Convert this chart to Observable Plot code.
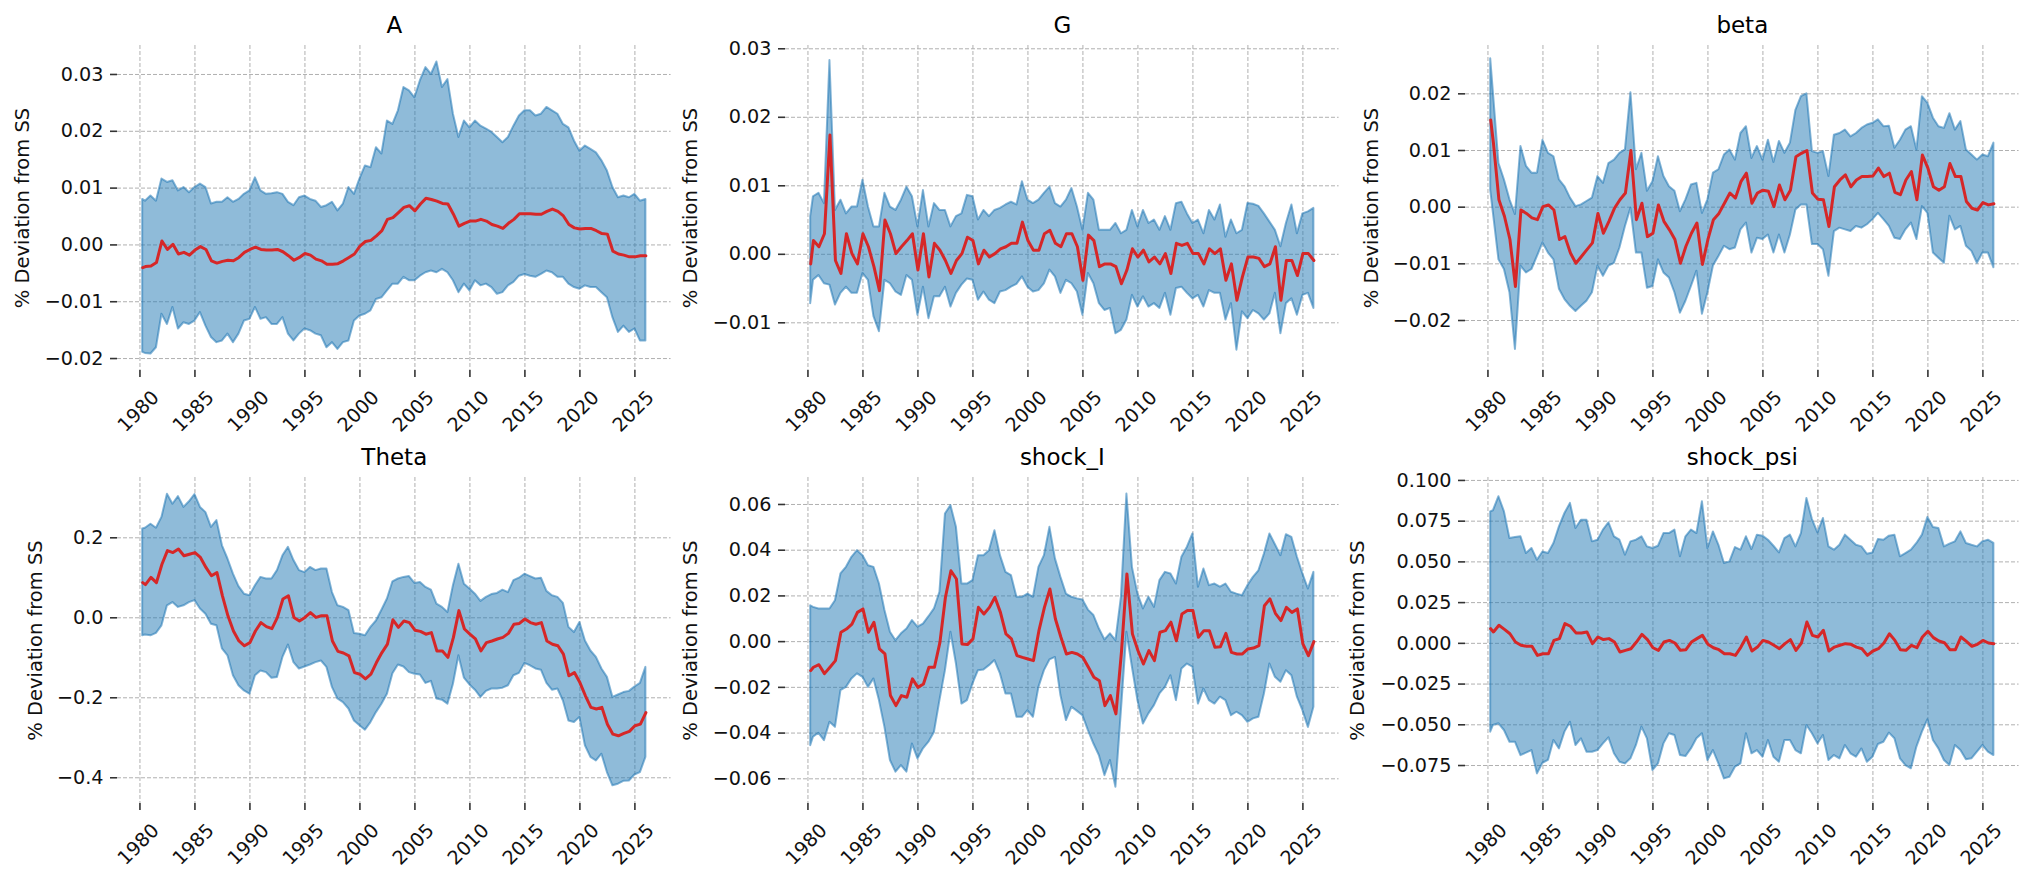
<!DOCTYPE html>
<html><head><meta charset="utf-8">
<script src="https://cdn.jsdelivr.net/npm/d3@7"></script>
<script src="https://cdn.jsdelivr.net/npm/@observablehq/plot@0.6"></script>
<style>
html,body{margin:0;padding:0;background:#fff;overflow:hidden}
#fig{position:relative;width:2032px;height:880px;font-family:"DejaVu Sans",sans-serif}
#fig svg{position:absolute;overflow:visible}
</style></head><body><div id="fig"></div>
<script>
// time index: 1980Q2 then half-yearly to 2026
const dates = [1980.25, ...d3.range(1980.5, 2026.01, 0.5)];
const yearTicks = [1980, 1985, 1990, 1995, 2000, 2005, 2010, 2015, 2020, 2025];
const yLabel = "% Deviation from SS";

// ---- A ----
const A_med = [
-0.0040,-0.0038,-0.0037,-0.0031,0.0007,-0.0008,0.0001,-0.0016,-0.0013,-0.0018,
-0.0009,-0.0003,-0.0008,-0.0028,-0.0032,-0.0029,-0.0027,-0.0028,-0.0022,-0.0013,
-0.0008,-0.0004,-0.0008,-0.0009,-0.0009,-0.0008,-0.0012,-0.0019,-0.0027,-0.0022,
-0.0015,-0.0018,-0.0025,-0.0028,-0.0034,-0.0034,-0.0033,-0.0028,-0.0022,-0.0016,
-0.0002,0.0006,0.0008,0.0016,0.0025,0.0045,0.0048,0.0057,0.0066,0.0069,
0.0060,0.0072,0.0082,0.0080,0.0077,0.0073,0.0072,0.0054,0.0033,0.0038,
0.0042,0.0042,0.0045,0.0042,0.0036,0.0033,0.0029,0.0038,0.0045,0.0055,
0.0055,0.0055,0.0054,0.0054,0.0059,0.0063,0.0059,0.0051,0.0036,0.0030,
0.0028,0.0029,0.0029,0.0025,0.0020,0.0019,-0.0011,-0.0016,-0.0018,-0.0021,
-0.0021,-0.0019,-0.0019];
const A_hi = [
0.0080,0.0077,0.0086,0.0077,0.0116,0.0110,0.0113,0.0095,0.0101,0.0092,
0.0101,0.0107,0.0101,0.0072,0.0075,0.0075,0.0083,0.0075,0.0080,0.0089,
0.0095,0.0118,0.0095,0.0089,0.0090,0.0092,0.0089,0.0075,0.0069,0.0083,
0.0086,0.0080,0.0077,0.0066,0.0069,0.0075,0.0060,0.0072,0.0101,0.0089,
0.0116,0.0139,0.0136,0.0171,0.0160,0.0218,0.0212,0.0236,0.0277,0.0271,
0.0259,0.0289,0.0312,0.0300,0.0322,0.0277,0.0291,0.0230,0.0189,0.0218,
0.0206,0.0218,0.0209,0.0204,0.0198,0.0189,0.0180,0.0189,0.0209,0.0227,
0.0236,0.0236,0.0227,0.0230,0.0242,0.0236,0.0230,0.0212,0.0206,0.0183,
0.0165,0.0174,0.0168,0.0162,0.0148,0.0130,0.0101,0.0083,0.0086,0.0083,
0.0089,0.0077,0.0080];
const A_lo = [
-0.0189,-0.0191,-0.0192,-0.0181,-0.0122,-0.0140,-0.0110,-0.0148,-0.0137,-0.0140,
-0.0134,-0.0119,-0.0143,-0.0163,-0.0172,-0.0169,-0.0157,-0.0172,-0.0157,-0.0134,
-0.0131,-0.0110,-0.0131,-0.0128,-0.0140,-0.0140,-0.0128,-0.0157,-0.0169,-0.0157,
-0.0148,-0.0151,-0.0157,-0.0160,-0.0181,-0.0172,-0.0184,-0.0172,-0.0169,-0.0134,
-0.0125,-0.0122,-0.0116,-0.0096,-0.0093,-0.0081,-0.0069,-0.0069,-0.0057,-0.0063,
-0.0063,-0.0055,-0.0049,-0.0046,-0.0049,-0.0043,-0.0049,-0.0063,-0.0084,-0.0069,
-0.0081,-0.0063,-0.0072,-0.0069,-0.0075,-0.0087,-0.0084,-0.0072,-0.0066,-0.0055,
-0.0052,-0.0055,-0.0057,-0.0052,-0.0046,-0.0049,-0.0057,-0.0057,-0.0069,-0.0075,
-0.0078,-0.0072,-0.0075,-0.0075,-0.0084,-0.0093,-0.0128,-0.0154,-0.0143,-0.0154,
-0.0148,-0.0169,-0.0169];

// ---- G ----
const G_med = [
-0.0014,0.0020,0.0011,0.0030,0.0174,-0.0009,-0.0028,0.0030,0.0001,-0.0014,
0.0030,0.0011,-0.0018,-0.0053,0.0050,0.0030,0.0001,0.0011,0.0020,0.0030,
-0.0023,0.0030,-0.0033,0.0016,0.0006,-0.0009,-0.0028,-0.0009,0.0001,0.0025,
0.0020,-0.0014,0.0006,-0.0004,0.0001,0.0008,0.0011,0.0016,0.0016,0.0047,
0.0020,0.0006,0.0006,0.0030,0.0035,0.0016,0.0011,0.0030,0.0030,0.0011,
-0.0038,0.0028,0.0020,-0.0018,-0.0014,-0.0014,-0.0018,-0.0043,-0.0023,0.0008,
-0.0004,0.0006,-0.0011,-0.0004,-0.0014,0.0001,-0.0028,0.0016,0.0013,0.0016,
0.0001,0.0001,-0.0014,0.0008,0.0001,0.0008,-0.0038,-0.0014,-0.0067,-0.0033,
-0.0004,-0.0004,-0.0006,-0.0018,-0.0014,0.0011,-0.0067,-0.0009,-0.0009,-0.0031,
0.0001,0.0001,-0.0009];
const G_hi = [
0.0055,0.0084,0.0089,0.0074,0.0283,0.0064,0.0079,0.0059,0.0069,0.0069,
0.0108,0.0069,0.0040,0.0040,0.0089,0.0069,0.0064,0.0079,0.0098,0.0084,
0.0040,0.0093,0.0040,0.0074,0.0064,0.0064,0.0040,0.0055,0.0059,0.0086,
0.0084,0.0050,0.0064,0.0055,0.0064,0.0067,0.0072,0.0076,0.0072,0.0106,
0.0079,0.0074,0.0079,0.0089,0.0098,0.0074,0.0069,0.0079,0.0096,0.0069,
0.0035,0.0089,0.0079,0.0035,0.0035,0.0035,0.0045,0.0030,0.0035,0.0064,
0.0040,0.0064,0.0045,0.0050,0.0035,0.0055,0.0035,0.0074,0.0076,0.0059,
0.0045,0.0050,0.0030,0.0064,0.0050,0.0072,0.0025,0.0050,0.0030,0.0035,
0.0074,0.0073,0.0070,0.0059,0.0047,0.0035,0.0011,0.0045,0.0072,0.0030,
0.0059,0.0062,0.0067];
const G_lo = [
-0.0072,-0.0038,-0.0031,-0.0043,-0.0045,-0.0074,-0.0057,-0.0048,-0.0057,-0.0057,
-0.0028,-0.0038,-0.0091,-0.0113,-0.0038,-0.0043,-0.0055,-0.0060,-0.0031,-0.0038,
-0.0089,-0.0048,-0.0094,-0.0062,-0.0062,-0.0048,-0.0077,-0.0057,-0.0045,-0.0036,
-0.0038,-0.0067,-0.0055,-0.0067,-0.0072,-0.0055,-0.0053,-0.0048,-0.0044,-0.0033,
-0.0048,-0.0055,-0.0053,-0.0043,-0.0023,-0.0033,-0.0057,-0.0038,-0.0043,-0.0055,
-0.0089,-0.0028,-0.0043,-0.0072,-0.0082,-0.0079,-0.0116,-0.0111,-0.0096,-0.0060,
-0.0077,-0.0062,-0.0077,-0.0072,-0.0079,-0.0057,-0.0089,-0.0050,-0.0048,-0.0057,
-0.0065,-0.0060,-0.0077,-0.0053,-0.0057,-0.0057,-0.0096,-0.0072,-0.0140,-0.0084,
-0.0094,-0.0082,-0.0087,-0.0096,-0.0087,-0.0057,-0.0116,-0.0072,-0.0065,-0.0089,
-0.0060,-0.0057,-0.0079];

// ---- beta ----
const beta_med = [
0.0154,0.0113,0.0013,-0.0016,-0.0057,-0.0140,-0.0005,-0.0011,-0.0019,-0.0022,
0.0001,0.0004,-0.0005,-0.0057,-0.0052,-0.0081,-0.0099,-0.0087,-0.0075,-0.0063,
-0.0011,-0.0046,-0.0025,-0.0002,0.0013,0.0025,0.0100,-0.0022,0.0007,-0.0052,
-0.0046,0.0004,-0.0025,-0.0040,-0.0057,-0.0099,-0.0069,-0.0046,-0.0028,-0.0101,
-0.0057,-0.0022,-0.0011,0.0007,0.0025,0.0016,0.0045,0.0060,0.0007,0.0025,
0.0030,0.0028,0.0001,0.0039,0.0013,0.0030,0.0089,0.0095,0.0100,0.0025,
0.0014,0.0013,-0.0034,0.0036,0.0048,0.0057,0.0036,0.0048,0.0054,0.0054,
0.0055,0.0069,0.0054,0.0060,0.0026,0.0022,0.0048,0.0063,0.0013,0.0092,
0.0069,0.0036,0.0030,0.0036,0.0077,0.0054,0.0054,0.0010,-0.0002,-0.0005,
0.0008,0.0004,0.0006];
const beta_hi = [
0.0262,0.0201,0.0077,0.0048,0.0013,-0.0013,0.0107,0.0072,0.0060,0.0060,
0.0118,0.0095,0.0089,0.0048,0.0036,0.0016,0.0001,0.0004,0.0010,0.0016,
0.0054,0.0042,0.0077,0.0083,0.0095,0.0101,0.0202,0.0066,0.0095,0.0028,
0.0045,0.0089,0.0054,0.0036,0.0028,-0.0008,0.0013,0.0039,0.0042,-0.0011,
0.0013,0.0060,0.0066,0.0092,0.0101,0.0083,0.0130,0.0142,0.0086,0.0107,
0.0083,0.0118,0.0079,0.0116,0.0095,0.0113,0.0171,0.0195,0.0200,0.0098,
0.0095,0.0098,0.0054,0.0127,0.0130,0.0136,0.0124,0.0130,0.0139,0.0145,
0.0148,0.0154,0.0142,0.0143,0.0104,0.0118,0.0136,0.0142,0.0101,0.0195,
0.0183,0.0157,0.0142,0.0139,0.0165,0.0136,0.0151,0.0101,0.0092,0.0083,
0.0092,0.0089,0.0113];
const beta_lo = [
0.0030,-0.0011,-0.0093,-0.0110,-0.0151,-0.0251,-0.0104,-0.0116,-0.0110,-0.0087,
-0.0063,-0.0081,-0.0093,-0.0145,-0.0163,-0.0175,-0.0184,-0.0175,-0.0166,-0.0151,
-0.0104,-0.0122,-0.0104,-0.0099,-0.0072,-0.0034,-0.0002,-0.0081,-0.0081,-0.0143,
-0.0140,-0.0093,-0.0116,-0.0125,-0.0151,-0.0187,-0.0166,-0.0140,-0.0113,-0.0189,
-0.0151,-0.0104,-0.0087,-0.0069,-0.0075,-0.0072,-0.0040,-0.0028,-0.0081,-0.0055,
-0.0057,-0.0049,-0.0081,-0.0049,-0.0081,-0.0049,-0.0005,0.0004,0.0004,-0.0066,
-0.0066,-0.0075,-0.0122,-0.0043,-0.0037,-0.0040,-0.0043,-0.0034,-0.0037,-0.0031,
-0.0022,-0.0011,-0.0022,-0.0034,-0.0055,-0.0057,-0.0040,-0.0028,-0.0057,0.0001,
-0.0011,-0.0081,-0.0090,-0.0099,-0.0016,-0.0040,-0.0034,-0.0069,-0.0078,-0.0099,
-0.0081,-0.0081,-0.0107];

// ---- Theta ----
const Theta_med = [
0.088,0.083,0.101,0.088,0.134,0.168,0.163,0.172,0.155,0.159,
0.163,0.151,0.126,0.105,0.113,0.055,0.005,-0.033,-0.058,-0.070,
-0.062,-0.033,-0.012,-0.022,-0.027,0.001,0.047,0.055,0.001,-0.008,
0.001,0.013,0.001,0.005,0.005,-0.058,-0.084,-0.088,-0.095,-0.137,
-0.141,-0.153,-0.141,-0.112,-0.087,-0.066,-0.005,-0.024,-0.008,-0.012,
-0.031,-0.034,-0.041,-0.037,-0.083,-0.083,-0.099,-0.049,0.018,-0.028,
-0.041,-0.053,-0.083,-0.062,-0.058,-0.053,-0.049,-0.039,-0.016,-0.014,
-0.003,-0.012,-0.016,-0.012,-0.058,-0.066,-0.070,-0.091,-0.145,-0.137,
-0.162,-0.195,-0.224,-0.228,-0.224,-0.266,-0.291,-0.295,-0.289,-0.284,
-0.270,-0.266,-0.237];
const Theta_hi = [
0.222,0.224,0.234,0.224,0.251,0.309,0.284,0.303,0.276,0.290,
0.308,0.276,0.263,0.226,0.243,0.180,0.147,0.109,0.078,0.059,
0.055,0.080,0.101,0.097,0.097,0.118,0.155,0.176,0.143,0.118,
0.113,0.126,0.118,0.122,0.122,0.063,0.030,0.026,0.018,-0.039,
-0.041,-0.045,-0.024,-0.008,0.019,0.047,0.090,0.097,0.101,0.103,
0.086,0.088,0.076,0.069,0.034,0.026,0.013,0.080,0.134,0.084,
0.072,0.059,0.041,0.051,0.058,0.061,0.069,0.063,0.093,0.099,
0.109,0.103,0.097,0.099,0.066,0.055,0.051,0.036,-0.024,-0.037,
-0.012,-0.058,-0.083,-0.099,-0.128,-0.149,-0.199,-0.193,-0.187,-0.184,
-0.173,-0.164,-0.124];
const Theta_lo = [
-0.045,-0.043,-0.045,-0.039,-0.020,0.030,0.038,0.026,0.030,0.038,
0.043,0.022,0.009,-0.016,-0.020,-0.078,-0.095,-0.145,-0.170,-0.183,
-0.191,-0.145,-0.133,-0.137,-0.151,-0.149,-0.099,-0.068,-0.112,-0.128,
-0.123,-0.118,-0.112,-0.108,-0.124,-0.174,-0.203,-0.212,-0.228,-0.258,
-0.270,-0.281,-0.262,-0.237,-0.216,-0.191,-0.140,-0.118,-0.123,-0.137,
-0.141,-0.143,-0.164,-0.159,-0.203,-0.206,-0.216,-0.166,-0.095,-0.151,
-0.168,-0.181,-0.199,-0.184,-0.178,-0.178,-0.176,-0.170,-0.145,-0.139,
-0.114,-0.120,-0.128,-0.131,-0.164,-0.181,-0.178,-0.208,-0.258,-0.262,
-0.249,-0.320,-0.349,-0.358,-0.341,-0.387,-0.420,-0.416,-0.409,-0.408,
-0.393,-0.387,-0.349];

// ---- shock_I ----
const shockI_med = [
-0.0127,-0.0112,-0.0101,-0.0140,-0.0112,-0.0083,0.0041,0.0055,0.0077,0.0128,
0.0143,0.0041,0.0085,-0.0032,-0.0054,-0.0236,-0.0280,-0.0236,-0.0243,-0.0163,
-0.0200,-0.0185,-0.0112,-0.0112,-0.0003,0.0194,0.0310,0.0274,-0.0010,-0.0013,
0.0012,0.0150,0.0121,0.0150,0.0194,0.0128,0.0034,0.0012,-0.0061,-0.0069,
-0.0076,-0.0083,0.0048,0.0150,0.0230,0.0099,0.0019,-0.0054,-0.0047,-0.0054,
-0.0069,-0.0112,-0.0156,-0.0171,-0.0280,-0.0236,-0.0316,-0.0047,0.0296,0.0034,
-0.0039,-0.0098,-0.0039,-0.0083,0.0041,0.0048,0.0085,0.0004,0.0121,0.0136,
0.0136,0.0019,0.0048,0.0048,-0.0025,-0.0022,0.0036,-0.0047,-0.0054,-0.0054,
-0.0032,-0.0028,-0.0017,0.0157,0.0187,0.0124,0.0092,0.0150,0.0128,0.0143,
-0.0010,-0.0061,0.0000];
const shockI_hi = [
0.0157,0.0150,0.0143,0.0143,0.0143,0.0179,0.0296,0.0325,0.0369,0.0398,
0.0376,0.0332,0.0325,0.0252,0.0136,0.0041,0.0004,0.0034,0.0055,0.0092,
0.0063,0.0077,0.0109,0.0143,0.0216,0.0558,0.0595,0.0500,0.0252,0.0252,
0.0267,0.0376,0.0376,0.0398,0.0485,0.0376,0.0303,0.0289,0.0194,0.0194,
0.0208,0.0194,0.0325,0.0376,0.0500,0.0362,0.0281,0.0208,0.0194,0.0187,
0.0182,0.0138,0.0114,0.0055,0.0007,0.0034,0.0004,0.0194,0.0646,0.0325,
0.0208,0.0143,0.0194,0.0150,0.0267,0.0303,0.0296,0.0252,0.0369,0.0413,
0.0471,0.0238,0.0318,0.0245,0.0252,0.0238,0.0252,0.0216,0.0208,0.0201,
0.0245,0.0281,0.0310,0.0383,0.0471,0.0424,0.0376,0.0468,0.0456,0.0369,
0.0296,0.0230,0.0303];
const shockI_lo = [
-0.0455,-0.0418,-0.0401,-0.0433,-0.0353,-0.0375,-0.0214,-0.0200,-0.0163,-0.0141,
-0.0156,-0.0200,-0.0163,-0.0258,-0.0375,-0.0520,-0.0571,-0.0542,-0.0571,-0.0448,
-0.0513,-0.0469,-0.0440,-0.0397,-0.0258,-0.0127,0.0041,-0.0098,-0.0273,-0.0258,
-0.0185,-0.0127,-0.0124,-0.0105,-0.0083,-0.0141,-0.0229,-0.0229,-0.0331,-0.0331,
-0.0302,-0.0331,-0.0200,-0.0127,-0.0080,-0.0069,-0.0236,-0.0345,-0.0287,-0.0305,
-0.0324,-0.0389,-0.0448,-0.0499,-0.0586,-0.0520,-0.0637,-0.0302,0.0041,-0.0112,
-0.0258,-0.0360,-0.0316,-0.0280,-0.0229,-0.0200,-0.0149,-0.0258,-0.0120,-0.0098,
-0.0112,-0.0273,-0.0207,-0.0258,-0.0273,-0.0243,-0.0258,-0.0324,-0.0309,-0.0324,
-0.0353,-0.0338,-0.0331,-0.0229,-0.0098,-0.0156,-0.0178,-0.0127,-0.0149,-0.0243,
-0.0302,-0.0375,-0.0287];

// ---- shock_psi ----
const psi_med = [
0.0090,0.0070,0.0111,0.0086,0.0059,0.0008,-0.0012,-0.0018,-0.0018,-0.0074,
-0.0064,-0.0064,0.0018,0.0029,0.0121,0.0105,0.0064,0.0064,0.0070,-0.0002,
0.0039,0.0023,0.0029,0.0008,-0.0053,-0.0043,-0.0033,0.0008,0.0055,0.0023,
-0.0027,-0.0043,0.0008,0.0018,0.0002,-0.0043,-0.0039,0.0008,0.0029,0.0049,
-0.0006,-0.0027,-0.0039,-0.0064,-0.0064,-0.0074,-0.0023,0.0039,-0.0047,-0.0023,
0.0018,0.0008,-0.0012,-0.0033,-0.0002,0.0023,-0.0043,0.0002,0.0131,0.0049,
0.0039,0.0080,-0.0047,-0.0023,-0.0012,-0.0002,-0.0006,-0.0023,-0.0033,-0.0074,
-0.0047,-0.0033,0.0002,0.0059,0.0018,-0.0039,-0.0043,-0.0012,-0.0027,0.0039,
0.0074,0.0035,0.0014,0.0004,-0.0039,-0.0039,0.0039,0.0012,-0.0018,-0.0006,
0.0018,0.0002,-0.0002];
const psi_hi = [
0.0807,0.0814,0.0900,0.0807,0.0643,0.0650,0.0654,0.0551,0.0582,0.0510,
0.0561,0.0551,0.0613,0.0715,0.0797,0.0859,0.0705,0.0756,0.0756,0.0623,
0.0633,0.0695,0.0740,0.0654,0.0633,0.0541,0.0623,0.0633,0.0654,0.0592,
0.0582,0.0596,0.0674,0.0674,0.0695,0.0531,0.0654,0.0695,0.0674,0.0869,
0.0582,0.0684,0.0602,0.0490,0.0500,0.0588,0.0572,0.0654,0.0576,0.0664,
0.0658,0.0633,0.0596,0.0555,0.0643,0.0664,0.0592,0.0674,0.0889,0.0760,
0.0678,0.0766,0.0592,0.0572,0.0602,0.0664,0.0633,0.0602,0.0592,0.0547,
0.0555,0.0637,0.0633,0.0658,0.0664,0.0531,0.0551,0.0572,0.0613,0.0664,
0.0773,0.0711,0.0705,0.0592,0.0609,0.0623,0.0684,0.0613,0.0602,0.0592,
0.0623,0.0633,0.0613];
const psi_lo = [
-0.0545,-0.0504,-0.0494,-0.0535,-0.0607,-0.0607,-0.0689,-0.0674,-0.0658,-0.0801,
-0.0736,-0.0719,-0.0596,-0.0648,-0.0545,-0.0484,-0.0627,-0.0586,-0.0668,-0.0668,
-0.0658,-0.0617,-0.0580,-0.0678,-0.0730,-0.0740,-0.0709,-0.0627,-0.0514,-0.0586,
-0.0781,-0.0740,-0.0617,-0.0555,-0.0566,-0.0689,-0.0695,-0.0648,-0.0586,-0.0555,
-0.0719,-0.0658,-0.0740,-0.0832,-0.0822,-0.0760,-0.0740,-0.0555,-0.0678,-0.0658,
-0.0699,-0.0596,-0.0699,-0.0730,-0.0596,-0.0596,-0.0658,-0.0678,-0.0504,-0.0555,
-0.0617,-0.0566,-0.0719,-0.0689,-0.0709,-0.0627,-0.0678,-0.0699,-0.0648,-0.0730,
-0.0699,-0.0621,-0.0607,-0.0551,-0.0586,-0.0709,-0.0750,-0.0770,-0.0637,-0.0545,
-0.0469,-0.0596,-0.0648,-0.0719,-0.0750,-0.0627,-0.0658,-0.0715,-0.0709,-0.0668,
-0.0627,-0.0668,-0.0689];

// y tick values per panel
const ticksA = [-0.02, -0.01, 0, 0.01, 0.02, 0.03];
const ticksG = [-0.01, 0, 0.01, 0.02, 0.03];
const ticksBeta = [-0.02, -0.01, 0, 0.01, 0.02];
const ticksTheta = [-0.4, -0.2, 0, 0.2];
const ticksShockI = [-0.06, -0.04, -0.02, 0, 0.02, 0.04, 0.06];
const ticksPsi = [-0.075, -0.05, -0.025, 0, 0.025, 0.05, 0.075, 0.1];

const panels = [
  {title: "A", med: A_med, lo: A_lo, hi: A_hi, ticks: ticksA, dec: 2, domain: [-0.0221, 0.0351], col: 0, row: 0, labDx: -95},
  {title: "G", med: G_med, lo: G_lo, hi: G_hi, ticks: ticksG, dec: 2, domain: [-0.01696, 0.03048], col: 1, row: 0, labDx: -95},
  {title: "beta", med: beta_med, lo: beta_lo, hi: beta_hi, ticks: ticksBeta, dec: 2, domain: [-0.02882, 0.02853], col: 2, row: 0, labDx: -94},
  {title: "Theta", med: Theta_med, lo: Theta_lo, hi: Theta_hi, ticks: ticksTheta, dec: 1, domain: [-0.4643, 0.3508], col: 0, row: 1, labDx: -82},
  {title: "shock_I", med: shockI_med, lo: shockI_lo, hi: shockI_hi, ticks: ticksShockI, dec: 2, domain: [-0.0708, 0.0718], col: 1, row: 1, labDx: -95},
  {title: "shock_psi", med: psi_med, lo: psi_lo, hi: psi_hi, ticks: ticksPsi, dec: 3, domain: [-0.0983, 0.1018], col: 2, row: 1, labDx: -108}
];

const colLeft = [116.6, 784.6, 1464.6];
const rowTop = [45, 477];
const plotW = 553.6, plotH = [325, 326];
const ML = 117, MR = 14, MT = 45, MB = 80;
const fig = document.getElementById("fig");
const gridStyle = {stroke: "#b0b0b0", strokeOpacity: 1, strokeWidth: 1, strokeDasharray: "4,2"};

for (const p of panels) {
  const rows = dates.map((t, i) => ({t, med: p.med[i], lo: p.lo[i], hi: p.hi[i]}));
  const fmt = d3.format(`.${p.dec}f`);
  const W = ML + plotW + MR, H = MT + plotH[p.row] + MB;
  const svg = Plot.plot({
    width: W, height: H,
    marginLeft: ML, marginRight: MR, marginTop: MT, marginBottom: MB,
    style: {fontFamily: "DejaVu Sans", fontSize: "19.2px", color: "#111", background: "none", overflow: "visible"},
    x: {type: "linear", domain: [1977.96, 2028.29]},
    y: {type: "linear", domain: p.domain},
    marks: [
      Plot.gridX(yearTicks, gridStyle),
      Plot.gridY(p.ticks, gridStyle),
      Plot.areaY(rows, {x: "t", y1: "lo", y2: "hi", fill: "#1f77b4", fillOpacity: 0.5, stroke: "#1f77b4", strokeOpacity: 0.55, strokeWidth: 2}),
      Plot.lineY(rows, {x: "t", y: "med", stroke: "#d62728", strokeWidth: 3}),
      Plot.axisX(yearTicks, {tickSize: 7, stroke: "#333", strokeWidth: 1.6, tickFormat: () => "", label: null}),
      Plot.axisY(p.ticks, {tickSize: 7, tickPadding: 7, stroke: "#333", strokeWidth: 1.6, tickFormat: fmt, label: null, fontSize: 19.2}),
      Plot.text(yearTicks, {x: d => d, frameAnchor: "bottom", text: d => String(d), rotate: -45, dx: -1.5, dy: 41, textAnchor: "middle", lineAnchor: "middle", fontSize: 19.2, fill: "#111"}),
      Plot.text([p.title], {frameAnchor: "top", text: d => d, dy: -12, lineAnchor: "bottom", fontSize: 23, fill: "#000"}),
      Plot.text([yLabel], {frameAnchor: "left", text: d => d, rotate: -90, dx: p.labDx, textAnchor: "middle", lineAnchor: "middle", fontSize: 19.5, fill: "#111"})
    ]
  });
  svg.style.left = (colLeft[p.col] - ML) + "px";
  svg.style.top = (rowTop[p.row] - MT) + "px";
  fig.appendChild(svg);
}
</script></body></html>
